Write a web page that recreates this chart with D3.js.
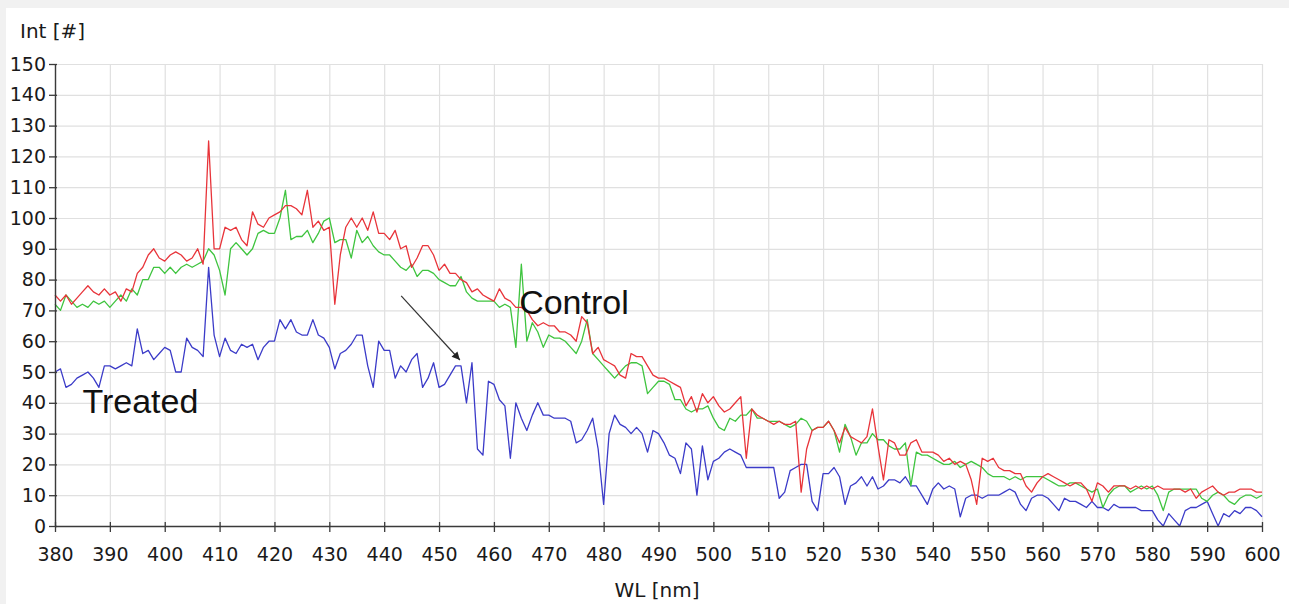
<!DOCTYPE html>
<html>
<head>
<meta charset="utf-8">
<script src="https://cdn.jsdelivr.net/npm/d3@7/dist/d3.min.js"></script>
<style>
  html, body { margin: 0; padding: 0; background: #f1f1f1; }
  svg { display: block; }
</style>
</head>
<body>
<svg id="chart" width="1289" height="604"></svg>
<script>
// ---------- data ----------
const wlStart = 380, wlStep = 1;
const xTicks = [380,390,400,410,420,430,440,450,460,470,480,490,500,510,520,530,540,550,560,570,580,590,600];
const yTicks = [0,10,20,30,40,50,60,70,80,90,100,110,120,130,140,150];

const controlRed = [
  75,73,75,72,74,76,78,76,75,77,
  75,76,73,77,76,82,84,88,90,87,
  86,88,89,88,86,87,90,85,125,90,
  90,97,96,97,93,91,102,98,97,100,
  101,102,104,104,103,101,109,97,99,96,
  97,72,88,97,100,97,100,96,102,95,
  95,93,96,90,91,84,87,91,91,88,
  83,85,82,82,80,79,76,77,75,74,
  73,77,74,73,71,71,70,67,65,66,
  65,65,63,63,62,60,68,66,56,58,
  54,53,52,49,48,56,55,55,52,49,
  48,48,47,46,45,39,42,37,43,40,
  42,39,37,38,40,42,22,38,36,35,
  34,33,34,33,33,34,11,25,31,32,
  32,34,31,27,32,29,28,27,29,38,
  26,15,28,27,23,23,27,28,24,24,
  24,23,21,22,20,21,20,15,7,22,
  21,22,19,18,18,17,17,13,11,14,
  16,17,16,15,14,13,14,14,12,8,
  14,13,11,13,13,13,12,13,12,13,
  12,13,12,12,12,12,11,12,9,11,
  12,13,11,10,11,11,12,12,12,11,
  11
];
const controlGreen = [
  72,70,75,73,71,72,71,73,72,73,
  71,73,75,73,77,75,80,80,84,84,
  82,84,82,84,85,84,85,86,90,88,
  83,75,90,92,90,88,90,95,96,95,
  95,100,109,93,94,94,96,92,95,99,
  100,92,93,93,87,96,92,94,91,89,
  88,88,86,84,83,85,81,83,83,82,
  80,79,78,78,81,76,74,73,73,73,
  73,71,72,71,58,85,60,66,63,58,
  62,61,61,60,58,56,60,67,56,54,
  52,50,48,50,52,53,53,52,43,45,
  47,47,46,41,41,38,37,38,38,39,
  35,32,31,35,34,36,36,38,35,35,
  34,34,34,33,32,33,35,34,31,32,
  32,34,31,24,33,29,23,27,27,30,
  28,28,26,25,25,27,13,24,23,23,
  22,21,20,20,21,19,20,21,20,19,
  17,16,16,16,15,16,15,16,16,16,
  16,15,14,13,13,14,14,13,12,11,
  12,6,10,12,13,13,11,12,13,12,
  13,10,5,11,12,12,12,12,12,9,
  8,10,11,10,8,7,9,10,10,9,
  10
];
const treatedBlue = [
  50,51,45,46,48,49,50,48,45,52,
  52,51,52,53,52,64,56,57,54,56,
  58,57,50,50,61,58,57,55,84,62,
  55,61,57,56,59,58,59,54,58,60,
  60,67,64,67,63,62,62,67,62,61,
  58,51,56,57,59,62,62,52,45,60,
  57,57,48,52,50,54,56,45,48,53,
  45,46,49,52,52,40,53,25,23,47,
  46,41,39,22,40,35,31,36,40,36,
  36,35,35,35,34,27,28,31,35,25,
  7,30,36,33,32,30,32,30,24,31,
  30,27,23,22,17,27,25,10,26,15,
  21,22,24,25,24,23,19,19,19,19,
  19,19,9,11,18,19,20,20,8,5,
  17,17,19,16,7,13,14,16,13,16,
  12,13,15,15,14,16,13,13,10,7,
  12,14,12,13,12,3,9,10,10,9,
  10,10,10,11,12,11,7,5,9,10,
  10,9,7,5,9,8,8,7,6,8,
  6,6,5,7,6,6,6,6,5,5,
  5,2,0,4,2,0,5,6,6,7,
  8,4,0,4,3,5,4,6,6,5,
  3
];
const labels = { x: "WL [nm]", y: "Int [#]", control: "Control", treated: "Treated" };

// ---------- layout ----------
const W = 1289, H = 604;
const L = 55, R = 1262, T = 64, B = 526;
const svg = d3.select("#chart");

svg.append("rect").attr("x", 6).attr("y", 8).attr("width", W - 6).attr("height", H - 8).attr("fill", "#ffffff");

const x = d3.scaleLinear().domain([380, 600]).range([L, R]);
const y = d3.scaleLinear().domain([0, 150]).range([B, T]);

const tickFont = "DejaVu Sans, Verdana, sans-serif";

// grid
svg.append("g").attr("transform", `translate(0,${B})`)
  .call(d3.axisBottom(x).tickValues(xTicks).tickSize(-(B - T)).tickFormat(""))
  .call(g => g.select(".domain").remove())
  .call(g => g.selectAll("line").attr("stroke", "#e0e0e0").attr("stroke-width", 1.2));
svg.append("g").attr("transform", `translate(${L},0)`)
  .call(d3.axisLeft(y).tickValues(yTicks).tickSize(-(R - L)).tickFormat(""))
  .call(g => g.select(".domain").remove())
  .call(g => g.selectAll("line").attr("stroke", "#e0e0e0").attr("stroke-width", 1.2));

// series
const line = d3.line()
  .x((d, i) => x(wlStart + i * wlStep))
  .y(d => y(d));

const series = [
  { data: treatedBlue, color: "#3b3bc8" },
  { data: controlGreen, color: "#3fc43f" },
  { data: controlRed, color: "#e8343a" }
];
series.forEach(s => {
  svg.append("path").datum(s.data)
    .attr("fill", "none").attr("stroke", s.color)
    .attr("stroke-width", 1.3).attr("stroke-linejoin", "round")
    .attr("d", line);
});

// axes
const xAxis = svg.append("g").attr("transform", `translate(0,${B})`)
  .call(d3.axisBottom(x).tickValues(xTicks).tickSize(6).tickPadding(16).tickSizeOuter(0));
xAxis.selectAll(".tick line").attr("y1", -4).attr("y2", 6);
const yAxis = svg.append("g").attr("transform", `translate(${L},0)`)
  .call(d3.axisLeft(y).tickValues(yTicks).tickSize(6).tickPadding(3).tickSizeOuter(0));
yAxis.selectAll(".tick line").attr("x1", 2);

[xAxis, yAxis].forEach(a => {
  a.select(".domain").attr("stroke", "#3a3a3a").attr("stroke-width", 1.4);
  a.selectAll(".tick line").attr("stroke", "#3a3a3a").attr("stroke-width", 1.3);
  a.selectAll("text").attr("font-family", tickFont).attr("font-size", 19).attr("fill", "#1a1a1a");
});

// axis titles
svg.append("text").attr("x", 20).attr("y", 38)
  .attr("font-family", tickFont).attr("font-size", 20).attr("fill", "#1a1a1a")
  .text(labels.y);
svg.append("text").attr("x", 657).attr("y", 597).attr("text-anchor", "middle")
  .attr("font-family", tickFont).attr("font-size", 20).attr("fill", "#1a1a1a")
  .text(labels.x);

// annotations
const annFont = "Liberation Sans, Arial, sans-serif";
svg.append("text").attr("x", x(464.6)).attr("y", y(68.8))
  .attr("font-family", annFont).attr("font-size", 34).attr("fill", "#111")
  .text(labels.control);
svg.append("text").attr("x", x(385.0)).attr("y", y(36.7))
  .attr("font-family", annFont).attr("font-size", 34).attr("fill", "#111")
  .text(labels.treated);

svg.append("defs").append("marker")
  .attr("id", "ah").attr("viewBox", "0 0 10 10").attr("refX", 10).attr("refY", 5)
  .attr("markerWidth", 10).attr("markerHeight", 8).attr("markerUnits", "userSpaceOnUse")
  .attr("orient", "auto")
  .append("path").attr("d", "M0,0 L10,5 L0,10 Z").attr("fill", "#222");

svg.append("line")
  .attr("x1", x(443.1)).attr("y1", y(74.7))
  .attr("x2", x(453.8)).attr("y2", y(53.9))
  .attr("stroke", "#333").attr("stroke-width", 1.2)
  .attr("marker-end", "url(#ah)");
</script>
</body>
</html>
